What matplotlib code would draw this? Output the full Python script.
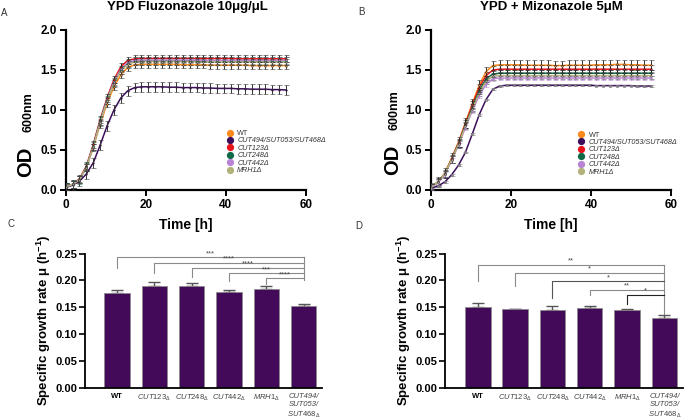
import matplotlib
matplotlib.use("Agg")
import matplotlib.pyplot as plt
from matplotlib.lines import Line2D
import numpy as np

plt.rcParams['font.family'] = ['Liberation Sans', 'DejaVu Sans']
plt.rcParams['mathtext.fontset'] = 'custom'
plt.rcParams['mathtext.rm'] = 'Liberation Sans'
plt.rcParams['mathtext.it'] = 'Liberation Sans:italic'
plt.rcParams['mathtext.bf'] = 'Liberation Sans:bold'

# ---------------- data ----------------
time_h = [0, 1.72, 3.44, 5.16, 6.88, 8.6, 10.32, 12.04, 13.76, 15.48, 17.2, 18.92,
          20.64, 22.36, 24.08, 25.8, 27.52, 29.24, 30.96, 32.68, 34.4, 36.12, 37.84,
          39.56, 41.28, 43.0, 44.72, 46.44, 48.16, 49.88, 51.6, 53.32, 55.04]

strains = ['WT', 'CUT494/SUT053/SUT468Δ', 'CUT123Δ', 'CUT248Δ', 'CUT442Δ', 'MRH1Δ']
colors = ['#ff8a1c', '#3c0d5a', '#e8141c', '#0f6b47', '#b983d6', '#b2b27a']

# Panel A: YPD Fluconazole
od_A_wt = [0.04, 0.07, 0.13, 0.28, 0.53, 0.82, 1.08, 1.29, 1.44, 1.53, 1.565, 1.57,
           1.57, 1.57, 1.57, 1.57, 1.57, 1.565, 1.565, 1.565, 1.565, 1.56, 1.56, 1.56,
           1.56, 1.56, 1.56, 1.555, 1.555, 1.555, 1.555, 1.555, 1.555]
od_A_cut494 = [0.03, 0.06, 0.11, 0.20, 0.34, 0.56, 0.80, 1.00, 1.15, 1.24, 1.28, 1.29,
               1.29, 1.29, 1.29, 1.285, 1.285, 1.28, 1.28, 1.28, 1.275, 1.275, 1.27, 1.27,
               1.27, 1.265, 1.265, 1.26, 1.26, 1.26, 1.255, 1.255, 1.25]
od_A_cut123 = [0.04, 0.07, 0.14, 0.30, 0.57, 0.88, 1.15, 1.38, 1.54, 1.62, 1.64, 1.645,
               1.645, 1.645, 1.645, 1.645, 1.645, 1.645, 1.645, 1.645, 1.645, 1.645, 1.645, 1.645,
               1.645, 1.64, 1.64, 1.64, 1.64, 1.64, 1.64, 1.64, 1.64]
od_A_cut248 = [0.04, 0.07, 0.13, 0.29, 0.55, 0.86, 1.13, 1.35, 1.50, 1.585, 1.61, 1.615,
               1.615, 1.615, 1.615, 1.615, 1.615, 1.615, 1.615, 1.615, 1.615, 1.615, 1.615, 1.615,
               1.61, 1.61, 1.61, 1.61, 1.61, 1.61, 1.61, 1.61, 1.61]
od_A_cut442 = [0.04, 0.07, 0.13, 0.28, 0.54, 0.85, 1.12, 1.35, 1.51, 1.59, 1.62, 1.625,
               1.625, 1.625, 1.625, 1.625, 1.625, 1.625, 1.625, 1.625, 1.62, 1.62, 1.62, 1.62,
               1.62, 1.62, 1.62, 1.62, 1.62, 1.62, 1.62, 1.62, 1.62]
od_A_mrh1 = [0.04, 0.07, 0.13, 0.28, 0.54, 0.84, 1.11, 1.33, 1.49, 1.57, 1.60, 1.605,
             1.605, 1.605, 1.605, 1.605, 1.605, 1.605, 1.605, 1.60, 1.60, 1.60, 1.60, 1.60,
             1.60, 1.60, 1.60, 1.60, 1.60, 1.60, 1.60, 1.60, 1.60]
err_A = [0.045, 0.06, 0.045, 0.05, 0.04, 0.04]

# Panel B: YPD + Miconazole
od_B_wt = [0.03, 0.10, 0.21, 0.40, 0.60, 0.84, 1.08, 1.31, 1.48, 1.555, 1.565, 1.565,
           1.565, 1.565, 1.56, 1.56, 1.56, 1.56, 1.555, 1.555, 1.56, 1.56, 1.56, 1.56,
           1.565, 1.565, 1.565, 1.57, 1.57, 1.565, 1.565, 1.56, 1.56]
od_B_cut494 = [0.02, 0.05, 0.10, 0.19, 0.31, 0.47, 0.70, 0.94, 1.13, 1.26, 1.30, 1.31,
               1.31, 1.31, 1.31, 1.31, 1.31, 1.31, 1.31, 1.31, 1.31, 1.31, 1.31, 1.31,
               1.305, 1.305, 1.305, 1.305, 1.305, 1.305, 1.30, 1.30, 1.30]
od_B_cut123 = [0.03, 0.10, 0.20, 0.39, 0.59, 0.83, 1.06, 1.28, 1.43, 1.50, 1.51, 1.51,
               1.51, 1.51, 1.51, 1.51, 1.51, 1.51, 1.51, 1.51, 1.51, 1.51, 1.51, 1.51,
               1.51, 1.51, 1.51, 1.51, 1.51, 1.51, 1.51, 1.51, 1.51]
od_B_cut248 = [0.03, 0.10, 0.20, 0.38, 0.58, 0.81, 1.03, 1.24, 1.39, 1.45, 1.46, 1.46,
               1.46, 1.46, 1.46, 1.46, 1.46, 1.46, 1.46, 1.46, 1.46, 1.46, 1.46, 1.46,
               1.46, 1.46, 1.46, 1.46, 1.46, 1.46, 1.46, 1.46, 1.46]
od_B_cut442 = [0.03, 0.09, 0.19, 0.37, 0.56, 0.78, 0.99, 1.18, 1.32, 1.39, 1.40, 1.40,
               1.40, 1.40, 1.40, 1.40, 1.40, 1.40, 1.40, 1.40, 1.40, 1.40, 1.40, 1.40,
               1.40, 1.40, 1.40, 1.40, 1.40, 1.40, 1.40, 1.40, 1.40]
od_B_mrh1 = [0.03, 0.10, 0.20, 0.38, 0.57, 0.80, 1.01, 1.21, 1.36, 1.42, 1.43, 1.43,
             1.43, 1.43, 1.43, 1.43, 1.43, 1.43, 1.43, 1.43, 1.43, 1.43, 1.43, 1.43,
             1.43, 1.43, 1.43, 1.43, 1.43, 1.43, 1.43, 1.43, 1.43]
err_B = [0.06, 0.01, 0.05, 0.04, 0.03, 0.04]

# Panels C / D: specific growth rates
bar_labels = ['WT', 'CUT123Δ', 'CUT248Δ', 'CUT442Δ', 'MRH1Δ', 'CUT494/SUT053/SUT468Δ']
mu_C = [0.177, 0.189, 0.189, 0.179, 0.184, 0.152]
mu_C_err = [0.005, 0.008, 0.006, 0.003, 0.005, 0.003]
mu_D = [0.150, 0.146, 0.145, 0.148, 0.145, 0.130]
mu_D_err = [0.008, 0.001, 0.007, 0.004, 0.002, 0.006]

sig_C = ['***', '****', '****', '***', '****']
sig_D = ['**', '*', '*', '**', '*']

# bracket geometry (data units)
brk_C_level = [0.243, 0.233, 0.223, 0.213, 0.204]
brk_C_drop = [0.223, 0.214, 0.207, 0.198, 0.194]
brk_C_right = 0.200
brk_D_level = [0.229, 0.214, 0.198, 0.182, 0.173]
brk_D_drop = [0.198, 0.190, 0.167, 0.173, 0.155]
brk_D_right = 0.138

# ---------------- figure ----------------
W, H = 691, 420
fig = plt.figure(figsize=(W / 100, H / 100), dpi=100)


def px_axes(l, t, r, b):
    return fig.add_axes([l / W, 1 - b / H, (r - l) / W, (b - t) / H])


def style_line_axes(ax):
    for s in ['top', 'right']:
        ax.spines[s].set_visible(False)
    for s in ['left', 'bottom']:
        ax.spines[s].set_linewidth(1.6)
    ax.set_xlim(0, 60)
    ax.set_ylim(0, 2.0)
    ax.set_xticks([0, 20, 40, 60])
    ax.set_yticks([0, 0.5, 1.0, 1.5, 2.0])
    ax.set_yticklabels(['0.0', '0.5', '1.0', '1.5', '2.0'])
    ax.tick_params(axis='both', direction='out', length=4.5, width=1.4,
                   labelsize=8.5, pad=2)
    for lab in ax.get_xticklabels() + ax.get_yticklabels():
        lab.set_fontweight('bold')


def draw_growth(ax, series, errs, ecols, markers, sizes, mfcs):
    for y, e, c, ec, mk, ms, mf in zip(series, errs, colors, ecols, markers, sizes, mfcs):
        ax.plot(time_h, y, color=c, lw=1.1, zorder=3)
        ax.errorbar(time_h, y, yerr=e, fmt=mk, ms=ms, mfc=mf, mec=ec, mew=0.4,
                    ecolor=ec, elinewidth=0.7, capsize=1.8, capthick=0.7, zorder=4)


def growth_legend(ax, x, y):
    handles = [Line2D([], [], ls='none', marker='o', ms=4.2, color=c) for c in colors]
    leg = ax.legend(handles, strains, loc='upper left', bbox_to_anchor=(x / W, 1 - y / H),
                    bbox_transform=fig.transFigure, frameon=False, fontsize=5.2,
                    handlelength=0.7, handletextpad=0.7, labelspacing=0.05,
                    borderpad=0, borderaxespad=0)
    for i, t in enumerate(leg.get_texts()):
        t.set_color('#333333')
        if i > 0:
            t.set_style('italic')


# Panel A
axA = px_axes(65.7, 30, 306, 190)
draw_growth(axA, [od_A_wt, od_A_cut494, od_A_cut123, od_A_cut248, od_A_cut442, od_A_mrh1],
            err_A, ['#333333', '#333333', '#222222', '#1f5a45', '#555555', '#444444'],
            ['o'] * 6, [1.2] * 6, colors)
style_line_axes(axA)
growth_legend(axA, 227, 130)
fig.text(187 / W, 1 - 7 / H, 'YPD Fluzonazole 10μg/μL', ha='center', va='center',
         fontsize=9.5, fontweight='bold', family='Liberation Sans')

# Panel B
axB = px_axes(431, 30, 671, 190)
draw_growth(axB, [od_B_wt, od_B_cut494, od_B_cut123, od_B_cut248, od_B_cut442, od_B_mrh1],
            err_B, ['#333333', '#7a7a7a', '#222222', '#222222', '#b48ccc', '#555555'],
            ['o', 's', 'o', 'o', 'o', 'o'], [1.2, 1.9, 1.2, 1.2, 1.2, 1.2],
            [colors[0], '#8a7f96', colors[2], colors[3], colors[4], colors[5]])
style_line_axes(axB)
growth_legend(axB, 578.5, 131.5)
fig.text(551.5 / W, 1 - 7 / H, 'YPD + Mizonazole 5μM', ha='center', va='center',
         fontsize=9.5, fontweight='bold', family='Liberation Sans')

for ax, xc in [(axA, 186), (axB, 551)]:
    fig.text(xc / W, 1 - 225 / H, 'Time [h]', ha='center', va='center',
             fontsize=10, fontweight='bold')

# OD labels (OD + smaller 600nm on same baseline)
for xb, yb, y6 in [(31.5, 177, 132), (398, 175, 130)]:
    fig.text(xb / W, 1 - yb / H, 'OD', rotation=90, rotation_mode='anchor',
             ha='left', va='baseline', fontsize=14.5, fontweight='bold',
             family='Liberation Sans')
    fig.text(xb / W, 1 - y6 / H, '600nm', rotation=90, rotation_mode='anchor',
             ha='left', va='baseline', fontsize=9, fontweight='bold',
             family='Liberation Sans')

# panel letters
for txt, x, y in [('A', 4.5, 12.5), ('B', 361, 12), ('C', 11, 224), ('D', 359, 226)]:
    fig.text(x / W, 1 - y / H, txt, ha='center', va='center', fontsize=7, color='#333333')

bar_color = '#430a5a'


def tick_text(lbl):
    if lbl == 'WT':
        return 'WT'
    if '/' in lbl:
        return 'CUT494/\nSUT053/\n$\\mathit{SUT468}_{\\Delta}$'
    return '$\\mathit{' + lbl[:-1] + '}_{\\Delta}$'


def bar_panel(ax, mu, err, sigs, levels, drops, right_end, bcolors):
    x = np.arange(len(mu))
    ax.bar(x, mu, width=0.68, color=bar_color, edgecolor='#8c8c8c', linewidth=0.6, zorder=2)
    ax.errorbar(x, mu, yerr=[np.zeros(len(err)), err], fmt='none', ecolor='#555555',
                elinewidth=1.0, capsize=4.2, capthick=1.0, zorder=1)
    for s in ['top', 'right']:
        ax.spines[s].set_visible(False)
    ax.spines['left'].set_linewidth(1.3)
    ax.spines['bottom'].set_linewidth(1.3)
    ax.set_ylim(0, 0.25)
    ax.set_yticks([0, 0.05, 0.10, 0.15, 0.20, 0.25])
    ax.set_yticklabels(['0.00', '0.05', '0.10', '0.15', '0.20', '0.25'])
    ax.tick_params(axis='y', direction='out', length=4, width=1.2, labelsize=8, pad=1.5)
    for lab in ax.get_yticklabels():
        lab.set_fontweight('bold')
    ax.set_xticks(x)
    ax.set_xticklabels([tick_text(l) for l in bar_labels])
    ax.tick_params(axis='x', length=0, pad=4, labelsize=5.5)
    for i, lab in enumerate(ax.get_xticklabels()):
        lab.set_va('top')
        if i == 0:
            lab.set_fontweight('bold')
            lab.set_color('black')
        else:
            lab.set_style('italic')
            lab.set_color('#444444')
    xr = x[-1]
    ax.plot([xr, xr], [levels[0], right_end], color='#8a8a8a', lw=0.8, zorder=3)
    for i in range(len(sigs)):
        c = bcolors[i]
        ax.plot([x[i], x[i], xr], [drops[i], levels[i], levels[i]], color=c, lw=0.8, zorder=3)
        ax.text((x[i] + xr) / 2, levels[i] + 0.0003, sigs[i], ha='center', va='bottom',
                fontsize=5.5, color='#444444')
    ax.set_ylabel('Specific growth rate μ (h$^{\\mathbf{-1}}$)', fontsize=9.5,
                  fontweight='bold', labelpad=2)


axC = px_axes(85, 253.5, 321.5, 387.5)
axC.set_xlim(-0.86, 5.48)
bar_panel(axC, mu_C, mu_C_err, sig_C, brk_C_level, brk_C_drop, brk_C_right,
          ['#8a8a8a'] * 5)

axD = px_axes(445, 253.5, 683, 387.5)
axD.set_xlim(-0.88, 5.5)
bar_panel(axD, mu_D, mu_D_err, sig_D, brk_D_level, brk_D_drop, brk_D_right,
          ['#8a8a8a', '#8a8a8a', '#555555', '#8a8a8a', '#222222'])

fig.savefig('out.png', dpi=100)
